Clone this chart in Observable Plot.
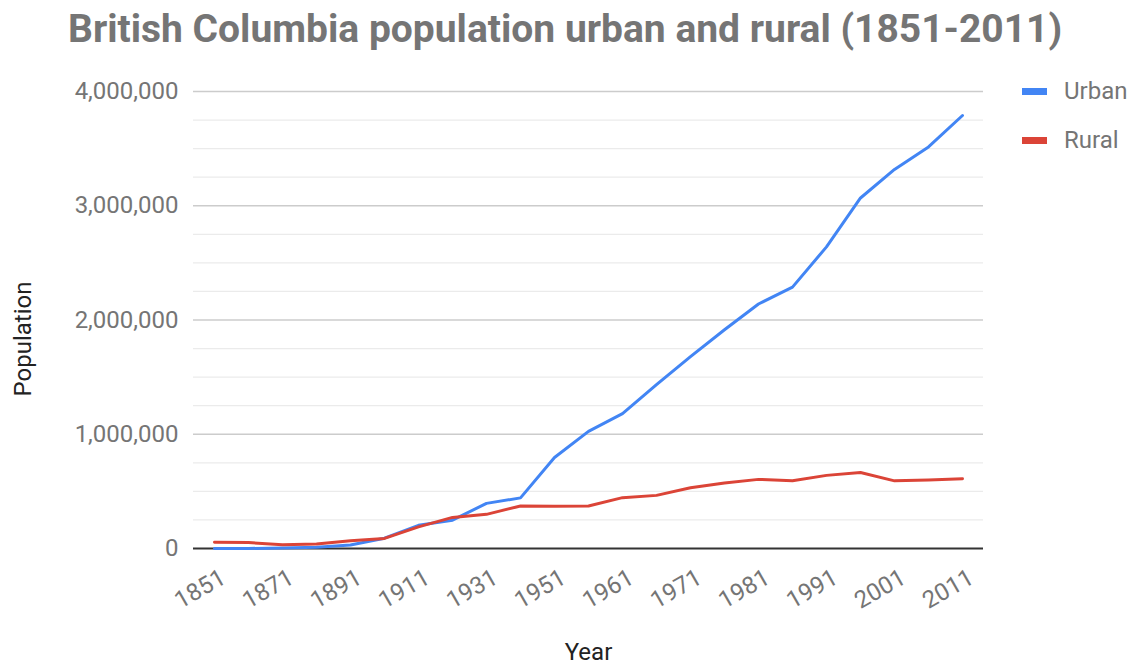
<!DOCTYPE html>
<html>
<head>
<meta charset="utf-8">
<script src="https://cdn.jsdelivr.net/npm/d3@7"></script>
<script src="https://cdn.jsdelivr.net/npm/@observablehq/plot@0.6"></script>
<style>
  html, body { margin: 0; padding: 0; background: #fff; }
  #wrap { position: relative; width: 1133px; height: 666px; overflow: hidden; font-family: Roboto, sans-serif; }
  #title { position: absolute; left: 68px; top: 6px; font-size: 39px; font-weight: bold; color: #757575; white-space: nowrap; }
  #chart { position: absolute; left: 0; top: 0; }
  .leg { position: absolute; left: 1022px; font-size: 24px; color: #757575; display: flex; align-items: center; }
  .leg .sw { width: 25px; height: 7px; margin-right: 17px; }
</style>
</head>
<body>
<div id="wrap">
  <div id="chart"></div>
  <div id="title">British Columbia population urban and rural (1851-2011)</div>
</div>
<script>
const years = ["1851","1861","1871","1881","1891","1901","1911","1921","1931","1941","1951","1956","1961","1966","1971","1976","1981","1986","1991","1996","2001","2006","2011"];
const urban = [0, 0, 5000, 10000, 30000, 90000, 203000, 248000, 395000, 443000, 796000, 1025000, 1180000, 1435000, 1680000, 1915000, 2140000, 2288000, 2640000, 3068000, 3318000, 3515000, 3790000];
const rural = [55000, 51500, 33000, 40000, 68000, 88000, 189000, 272000, 299000, 372000, 369000, 372000, 445000, 465000, 532000, 573000, 605000, 593000, 640000, 665000, 592000, 600000, 610000];
const seriesNames = ["Urban", "Rural"];
const seriesColors = ["#4285f4", "#db4437"];
const xTickLabels = ["1851","1871","1891","1911","1931","1951","1961","1971","1981","1991","2001","2011"];
const yTickValues = [0, 1000000, 2000000, 3000000, 4000000];
const yMinorValues = [250000, 500000, 750000, 1250000, 1500000, 1750000, 2250000, 2500000, 2750000, 3250000, 3500000, 3750000];
const xLabel = "Year";
const yLabel = "Population";

const rows = [];
years.forEach((y, i) => {
  rows.push({year: y, value: urban[i], series: seriesNames[0]});
});
years.forEach((y, i) => {
  rows.push({year: y, value: rural[i], series: seriesNames[1]});
});

const plot = Plot.plot({
  width: 1133,
  height: 666,
  marginTop: 91,
  marginBottom: 118,
  marginLeft: 193,
  marginRight: 150,
  style: {fontFamily: "Roboto, sans-serif", fontSize: "24px", color: "#757575", background: "#fff", overflow: "visible"},
  x: {type: "point", domain: years, padding: 0.5},
  y: {domain: [0, 4000000]},
  color: {domain: seriesNames, range: seriesColors},
  marks: [
    Plot.ruleY(yMinorValues, {stroke: "#ebebeb", strokeWidth: 1.2}),
    Plot.ruleY(yTickValues.filter(v => v > 0), {stroke: "#cccccc", strokeWidth: 1.5}),
    Plot.axisY({ticks: yTickValues, tickFormat: d3.format(","), tickSize: 0, tickPadding: 15, label: null, fill: "#757575"}),
    Plot.axisX({ticks: xTickLabels, tickRotate: -30, tickSize: 0, tickPadding: 27, dx: 9, label: null, fill: "#757575"}),
    Plot.ruleY([0], {stroke: "#333333", strokeWidth: 2}),
    Plot.line(rows, {x: "year", y: "value", z: "series", stroke: "series", strokeWidth: 3, curve: "linear"}),
    Plot.text([yLabel], {frameAnchor: "left", textAnchor: "middle", lineAnchor: "middle", dx: -170, dy: 19, rotate: -90, fill: "#222", fontSize: 24}),
    Plot.text([xLabel], {frameAnchor: "bottom", textAnchor: "middle", lineAnchor: "middle", dy: 104, fill: "#222", fontSize: 24})
  ]
});
document.getElementById("chart").appendChild(plot);

const wrap = document.getElementById("wrap");
const legTops = [91, 140];
seriesNames.forEach((name, i) => {
  const d = document.createElement("div");
  d.className = "leg";
  d.style.top = (legTops[i] - 15) + "px";
  d.style.height = "30px";
  const sw = document.createElement("span");
  sw.className = "sw";
  sw.style.background = seriesColors[i];
  const t = document.createElement("span");
  t.textContent = name;
  d.appendChild(sw);
  d.appendChild(t);
  wrap.appendChild(d);
});
</script>
</body>
</html>
